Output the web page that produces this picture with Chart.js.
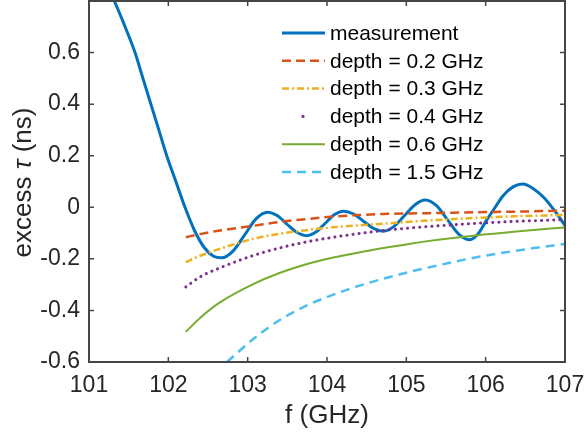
<!DOCTYPE html>
<html>
<head>
<meta charset="utf-8">
<script src="https://cdn.jsdelivr.net/npm/chart.js@4.4.1/dist/chart.umd.min.js"></script>
<style>
  html, body { margin: 0; padding: 0; background: #fff; }
  canvas { display: block; }
</style>
</head>
<body>
<canvas id="mycanvas" width="584" height="438"></canvas>
<script>
// tick values
var xTicks = [101, 102, 103, 104, 105, 106, 107];
var yTicks = [-0.6, -0.4, -0.2, 0, 0.2, 0.4, 0.6, 0.8];

// measurement
var measFreq = [101.2, 101.32, 101.455, 101.58, 101.68, 101.78, 101.88, 101.98, 102.095, 102.21,
                102.33, 102.45, 102.57, 102.67,
                102.815, 102.96, 103.105, 103.25, 103.37, 103.495, 103.62, 103.74,
                103.86, 103.975, 104.09, 104.21, 104.335, 104.46, 104.585, 104.71,
                104.84, 104.975, 105.11, 105.24, 105.38, 105.52, 105.66, 105.8,
                105.9, 106.01, 106.12, 106.22, 106.35, 106.47, 106.6, 106.73, 106.9, 107];
var measTau = [0.885, 0.80, 0.70, 0.60, 0.50, 0.40, 0.30, 0.20, 0.10, 0.0,
               -0.09, -0.155, -0.19, -0.196,
               -0.17, -0.108, -0.045, -0.019, -0.032, -0.065, -0.097, -0.11,
               -0.096, -0.063, -0.029, -0.015, -0.026, -0.054, -0.082, -0.093,
               -0.075, -0.033, 0.01, 0.028, 0.006, -0.049, -0.104, -0.126,
               -0.105, -0.051, 0.0, 0.045, 0.08, 0.09, 0.072, 0.039, -0.026, -0.071];

// model curves
var modelFreq = [102.22, 102.4, 102.65, 103.07, 103.4, 103.76, 104.08, 104.4, 104.71, 105.05, 105.4, 105.9, 106.35, 107];
var depth02 = [-0.116, -0.104, -0.09, -0.072, -0.057, -0.045, -0.036, -0.03, -0.026, -0.024, -0.022, -0.019, -0.017, -0.013];
var depth03 = [-0.213, -0.188, -0.161, -0.122, -0.103, -0.088, -0.077, -0.07, -0.064, -0.056, -0.049, -0.041, -0.035, -0.03];
var depth04 = [-0.309, -0.27, -0.235, -0.187, -0.158, -0.133, -0.116, -0.102, -0.09, -0.08, -0.072, -0.062, -0.055, -0.048];
var depth06 = [-0.483, -0.429, -0.369, -0.298, -0.255, -0.219, -0.195, -0.175, -0.158, -0.141, -0.126, -0.108, -0.095, -0.078];
var freq15 = [102.74, 103.07, 103.4, 103.76, 104.08, 104.4, 104.71, 105.05, 105.4, 105.9, 106.35, 107];
var depth15 = [-0.6, -0.511, -0.438, -0.379, -0.339, -0.305, -0.277, -0.25, -0.225, -0.193, -0.17, -0.142];

var labels = ['measurement', 'depth = 0.2 GHz', 'depth = 0.3 GHz', 'depth = 0.4 GHz', 'depth = 0.6 GHz', 'depth = 1.5 GHz'];

function pts(xs, ys) {
    var out = [];
    for (var i in xs) {
        out.push({x: xs[i], y: ys[i]});
    }
    return out;
}

var FONT = '"Liberation Sans", Arial, Helvetica, sans-serif';
var AXIS = '#454545';
var TEXT = '#262626';

var boxPlugin = {
    id: 'box',
    afterDatasetsDraw: function(chart) {
        var ctx = chart.ctx, a = chart.chartArea;
        var xs = chart.scales.x, ys = chart.scales.y;
        ctx.save();

        // inward ticks on all four sides
        ctx.strokeStyle = AXIS;
        ctx.lineWidth = 1.5;
        ctx.beginPath();
        xTicks.forEach(function(v) {
            var px = xs.getPixelForValue(v);
            ctx.moveTo(px, a.bottom); ctx.lineTo(px, a.bottom - 5);
            ctx.moveTo(px, a.top); ctx.lineTo(px, a.top + 5);
        });
        yTicks.forEach(function(v) {
            var py = ys.getPixelForValue(v);
            ctx.moveTo(a.left, py); ctx.lineTo(a.left + 5, py);
            ctx.moveTo(a.right, py); ctx.lineTo(a.right - 5, py);
        });
        ctx.stroke();

        // box
        ctx.lineWidth = 2;
        ctx.strokeRect(a.left, a.top, a.right - a.left, a.bottom - a.top);

        // legend
        ctx.font = '21px ' + FONT;
        ctx.textAlign = 'left';
        ctx.textBaseline = 'middle';
        chart.data.datasets.forEach(function(ds, i) {
            var ly = 33 + i * 27.8;
            ctx.strokeStyle = ds.borderColor;
            ctx.fillStyle = ds.borderColor;
            if (ds.legendDot) {
                ctx.beginPath();
                ctx.arc(303, ly, 1.6, 0, Math.PI * 2);
                ctx.fill();
            } else {
                ctx.lineWidth = ds.borderWidth;
                ctx.setLineDash(ds.borderDash || []);
                ctx.beginPath();
                ctx.moveTo(282, ly);
                ctx.lineTo(325, ly);
                ctx.stroke();
                ctx.setLineDash([]);
            }
            ctx.fillStyle = '#000';
            ctx.fillText(ds.label, 330, ly + 1);
        });

        // y axis title with italic tau
        var parts = [['excess ', 'normal'], ['\u03c4', 'italic'], [' (ns)', 'normal']];
        var total = 0;
        parts.forEach(function(p) {
            ctx.font = p[1] + ' 26px ' + FONT;
            p.push(ctx.measureText(p[0]).width);
            total += p[2];
        });
        ctx.translate(24, (a.top + a.bottom) / 2 + 1);
        ctx.rotate(-Math.PI / 2);
        ctx.fillStyle = TEXT;
        var cx = -total / 2;
        parts.forEach(function(p) {
            ctx.font = p[1] + ' 26px ' + FONT;
            ctx.fillText(p[0], cx, 0);
            cx += p[2];
        });
        ctx.restore();
    }
};

var common = {fill: false, pointRadius: 0, cubicInterpolationMode: 'monotone', order: 0};

var chartdata = {
    datasets: [
        Object.assign({}, common, {
            label: labels[0], data: pts(measFreq, measTau),
            borderColor: '#0072BD', borderWidth: 3, order: 1
        }),
        Object.assign({}, common, {
            label: labels[1], data: pts(modelFreq, depth02),
            borderColor: '#D95319', borderWidth: 2.5, borderDash: [9, 5]
        }),
        Object.assign({}, common, {
            label: labels[2], data: pts(modelFreq, depth03),
            borderColor: '#EDB120', borderWidth: 2.5, borderDash: [7, 3, 2, 3]
        }),
        Object.assign({}, common, {
            label: labels[3], data: pts(modelFreq, depth04),
            borderColor: '#7E2F8E', borderWidth: 3, borderDash: [0.1, 6], borderCapStyle: 'round',
            legendDot: true
        }),
        Object.assign({}, common, {
            label: labels[4], data: pts(modelFreq, depth06),
            borderColor: '#77AC30', borderWidth: 2
        }),
        Object.assign({}, common, {
            label: labels[5], data: pts(freq15, depth15),
            borderColor: '#4DBEEE', borderWidth: 2.5, borderDash: [9, 6]
        })
    ]
};

var ctx = document.getElementById('mycanvas');
var chart = new Chart(ctx, {
    type: 'line',
    data: chartdata,
    plugins: [boxPlugin],
    options: {
        responsive: false,
        animation: false,
        layout: {padding: {top: 1, right: 19, left: 0, bottom: 0}},
        plugins: {legend: {display: false}, tooltip: {enabled: false}},
        scales: {
            x: {
                type: 'linear', min: 101, max: 107,
                grid: {display: false, drawTicks: false},
                border: {display: false},
                afterBuildTicks: function(s) { s.ticks = xTicks.map(function(v) { return {value: v}; }); },
                afterFit: function(s) { s.height = 76; s.paddingLeft = 0; s.paddingRight = 0; },
                ticks: {
                    padding: 10, color: TEXT, font: {family: FONT, size: 23},
                    maxRotation: 0, autoSkip: false,
                    callback: function(v) { return String(v); }
                },
                title: {
                    display: true, text: 'f (GHz)', color: TEXT,
                    font: {family: FONT, size: 26}, padding: {top: 0, bottom: 7}
                }
            },
            y: {
                type: 'linear', min: -0.6, max: 0.8,
                grid: {display: false, drawTicks: false},
                border: {display: false},
                afterBuildTicks: function(s) {
                    s.ticks = yTicks.filter(function(v) { return v < 0.75; }).map(function(v) { return {value: v}; });
                },
                afterFit: function(s) { s.width = 89; s.paddingTop = 0; s.paddingBottom = 0; },
                ticks: {
                    padding: 9, color: TEXT, font: {family: FONT, size: 23},
                    autoSkip: false,
                    callback: function(v) { return String(Math.round(v * 10) / 10); }
                }
            }
        }
    }
});
</script>
</body>
</html>
